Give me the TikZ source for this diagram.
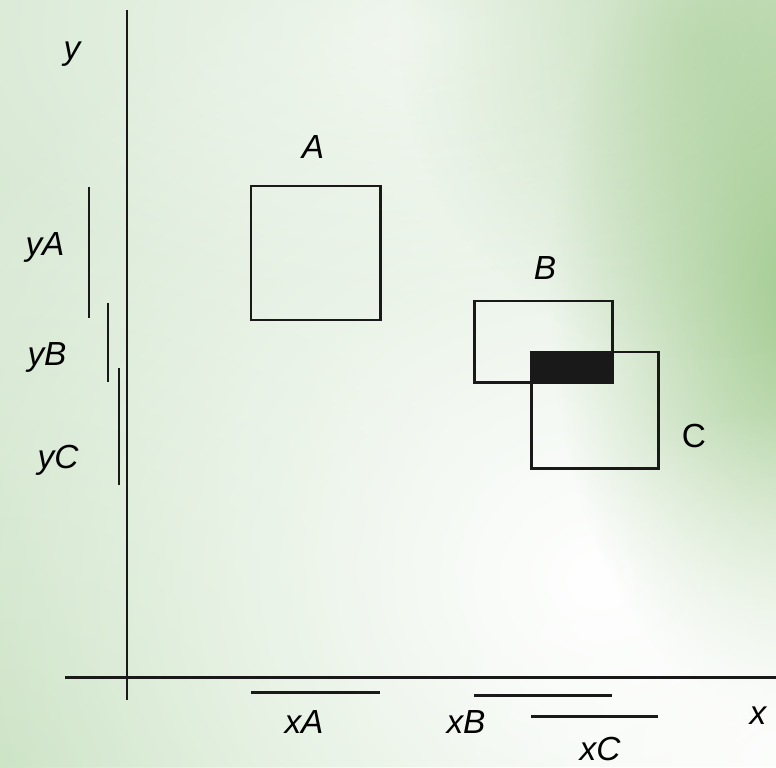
\documentclass[tikz,border=0pt]{standalone}
\usepackage{fontspec}
\setmainfont{Liberation Sans}
\usetikzlibrary{fadings}

\definecolor{bgbase}{RGB}{216,233,212}
\definecolor{bgdeep}{RGB}{196,223,188}
\definecolor{bgstreak}{RGB}{164,204,146}

\tikzfading[name=softblob,inner color=transparent!0,outer color=transparent!100]

\tikzset{
  rectline/.style={line width=1.7pt,draw=black!90},
  barline/.style={line width=1.7pt,draw=black!90},
  lbl/.style={font=\fontsize{19}{19}\selectfont\itshape,inner sep=0pt}
}

\begin{document}
\begin{tikzpicture}[x=0.02cm,y=-0.02cm,line cap=butt,line join=miter]

\useasboundingbox (0,0) rectangle (776,767);

% background
\fill[bgbase] (0,0) rectangle (776,767);
\fill[bgdeep,path fading=softblob] (0,767) circle[x radius=600,y radius=500];
\fill[white,path fading=softblob] (600,580) circle[x radius=760,y radius=660];
\fill[white,opacity=0.6,path fading=softblob] (430,30) circle[x radius=520,y radius=280];
\fill[bgstreak,path fading=softblob] (800,290) circle[x radius=250,y radius=440];
\fill[bgstreak,opacity=0.5,path fading=softblob] (700,40) circle[x radius=300,y radius=320];
\fill[white,opacity=0.8,path fading=softblob] (776,767) circle[x radius=360,y radius=360];

% corners of the rectangles
\coordinate (A1) at (251,186);
\coordinate (A2) at (380,320);
\coordinate (B1) at (474,301);
\coordinate (B2) at (612,382);
\coordinate (C1) at (531,352);
\coordinate (C2) at (658,468);

% axes
\coordinate (Ytop) at (127,10);
\coordinate (Ybot) at (127,700);
\coordinate (Xleft) at (65,677);
\coordinate (Xright) at (776,677);
\draw[barline] (Ytop) -- (Ybot);
\draw[barline] (Xleft) -- (Xright);

% overlap of B and C
\fill[black!90] (C1) rectangle (B2);

\draw[rectline] (A1) rectangle (A2);
\draw[rectline] (B1) rectangle (B2);
\draw[rectline] (C1) rectangle (C2);

% projections on the y axis
\draw[barline] (89,187) -- (89,318);
\draw[barline] (108,303) -- (108,382);
\draw[barline] (119,368) -- (119,485);

% projections on the x axis
\draw[barline] (251,692) -- (380,692);
\draw[barline] (474,695) -- (612,695);
\draw[barline] (531,716) -- (658,716);

\node[lbl] (ylab) at (72,54) {y};
\node[lbl] (xlab) at (758,716) {x};
\node[lbl] (Alab) at (313,147) {A};
\node[lbl] (Blab) at (545,268) {B};
\node[lbl,font=\fontsize{19}{19}\selectfont] (Clab) at (694,436) {C};
\node[lbl] (yAlab) at (45,247) {yA};
\node[lbl] (yBlab) at (47,357) {yB};
\node[lbl] (yClab) at (58,460) {yC};
\node[lbl] (xAlab) at (304,722) {xA};
\node[lbl] (xBlab) at (466,722) {xB};
\node[lbl] (xClab) at (600,749) {xC};
\end{tikzpicture}
\end{document}
